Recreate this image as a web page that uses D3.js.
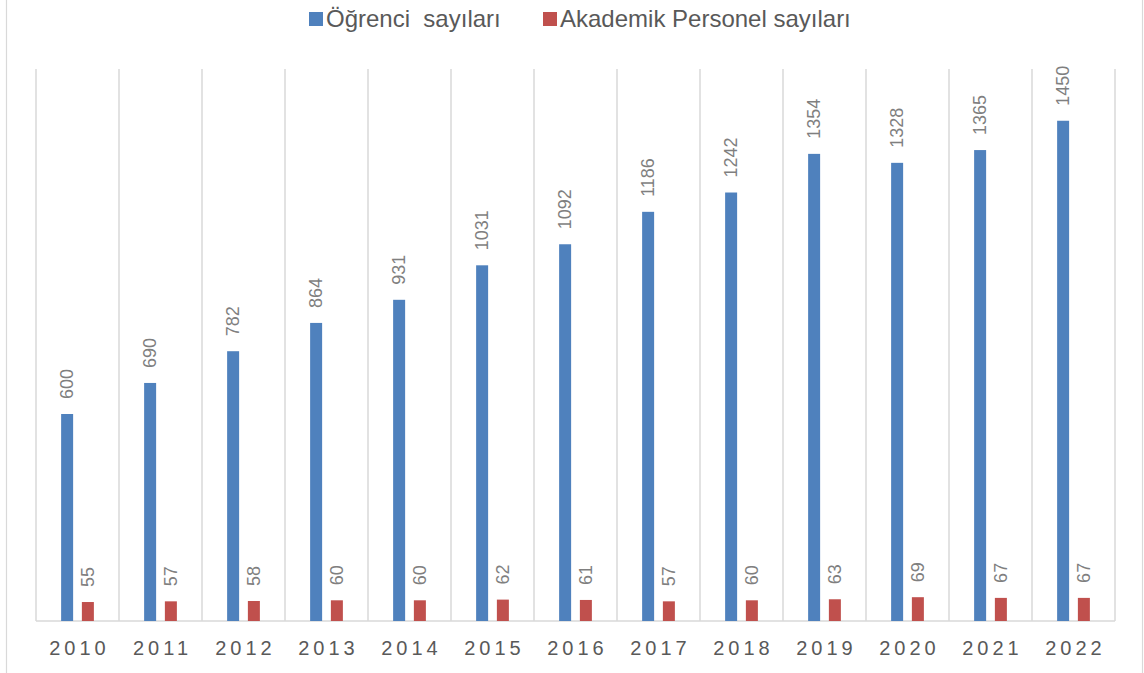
<!DOCTYPE html>
<html>
<head>
<meta charset="utf-8">
<script src="https://cdn.jsdelivr.net/npm/d3@7"></script>
<style>
  body { margin: 0; background: #fff; }
  text { font-family: "Liberation Sans", Arial, sans-serif; }
</style>
</head>
<body>
<div id="container"></div>
<script>
/* DATA */
const years = ["2010","2011","2012","2013","2014","2015","2016","2017","2018","2019","2020","2021","2022"];
const ogrenci = [600, 690, 782, 864, 931, 1031, 1092, 1186, 1242, 1354, 1328, 1365, 1450];
const akademik = [55, 57, 58, 60, 60, 62, 61, 57, 60, 63, 69, 67, 67];
const seriesNames = ["Öğrenci  sayıları", "Akademik Personel sayıları"];
const seriesColors = ["#4f81bd", "#c0504d"];

/* CONSTANTS */
const width = 1144, height = 673,
  margin = { top: 69, bottom: 52, left: 36, right: 29 };

const svg = d3.select("#container")
  .append("svg")
  .attr("width", width)
  .attr("height", height);

// outer frame
svg.append("rect")
  .attr("x", 6.5).attr("y", -2)
  .attr("width", width - 8).attr("height", height + 4)
  .attr("fill", "none")
  .attr("stroke", "#d9d9d9")
  .attr("stroke-width", 1.2);

// SCALES
const x = d3.scaleBand()
  .domain(years)
  .range([margin.left, width - margin.right]);

const x1 = d3.scaleBand()
  .domain(seriesNames)
  .range([x.bandwidth() * 0.25, x.bandwidth() * 0.75]);

const y = d3.scaleLinear()
  .domain([0, 1600])
  .range([height - margin.bottom, margin.top]);

const barW = 12;

// vertical grid lines at category boundaries
const bounds = years.map(d => x(d)).concat([x(years[years.length - 1]) + x.bandwidth()]);
svg.selectAll("line.grid")
  .data(bounds)
  .join("line")
  .attr("class", "grid")
  .attr("x1", d => d).attr("x2", d => d)
  .attr("y1", y(1600)).attr("y2", y(0))
  .attr("stroke", "#d9d9d9")
  .attr("stroke-width", 1.5);

// baseline
svg.append("line")
  .attr("x1", x.range()[0]).attr("x2", x.range()[1])
  .attr("y1", y(0)).attr("y2", y(0))
  .attr("stroke", "#d9d9d9")
  .attr("stroke-width", 1.5);

// DATA ROWS
const rows = years.map((yr, i) => ({ year: yr, values: [ogrenci[i], akademik[i]] }));

const groups = svg.selectAll("g.year")
  .data(rows)
  .join("g")
  .attr("class", "year")
  .attr("transform", d => `translate(${x(d.year)},0)`);

groups.selectAll("rect")
  .data(d => d.values.map((v, k) => ({ key: seriesNames[k], value: v, k })))
  .join("rect")
  .attr("x", d => x1(d.key) + x1.bandwidth() / 2 - barW / 2)
  .attr("y", d => y(d.value))
  .attr("width", barW)
  .attr("height", d => y(0) - y(d.value))
  .attr("fill", d => seriesColors[d.k]);

// value labels, rotated
groups.selectAll("text.val")
  .data(d => d.values.map((v, k) => ({ key: seriesNames[k], value: v })))
  .join("text")
  .attr("class", "val")
  .attr("transform", d => {
    const cx = x1(d.key) + x1.bandwidth() / 2 + 6;
    const cy = y(d.value) - 15;
    return `translate(${cx},${cy}) rotate(-90)`;
  })
  .attr("text-anchor", "start")
  .style("font-size", "18px")
  .style("fill", "#7f7f7f")
  .text(d => d.value);

// X AXIS
const xAxis = svg.append("g")
  .attr("transform", `translate(0,${y(0)})`)
  .call(d3.axisBottom(x).tickSize(0).tickPadding(20));
xAxis.select(".domain").remove();
xAxis.selectAll("text")
  .attr("dx", "2")
  .style("font-family", '"Liberation Sans", Arial, sans-serif')
  .style("font-size", "20px")
  .style("letter-spacing", "4px")
  .style("fill", "#595959");

// LEGEND
const legendX = [309, 543];
const legend = svg.selectAll("g.legend")
  .data(seriesNames)
  .join("g")
  .attr("class", "legend")
  .attr("transform", (d, i) => `translate(${legendX[i]},12)`);
legend.append("rect")
  .attr("width", 14).attr("height", 14)
  .attr("fill", (d, i) => seriesColors[i]);
legend.append("text")
  .attr("x", 17).attr("y", 15)
  .style("font-size", "24px")
  .style("fill", "#595959")
  .style("white-space", "pre")
  .text(d => d);
</script>
</body>
</html>
